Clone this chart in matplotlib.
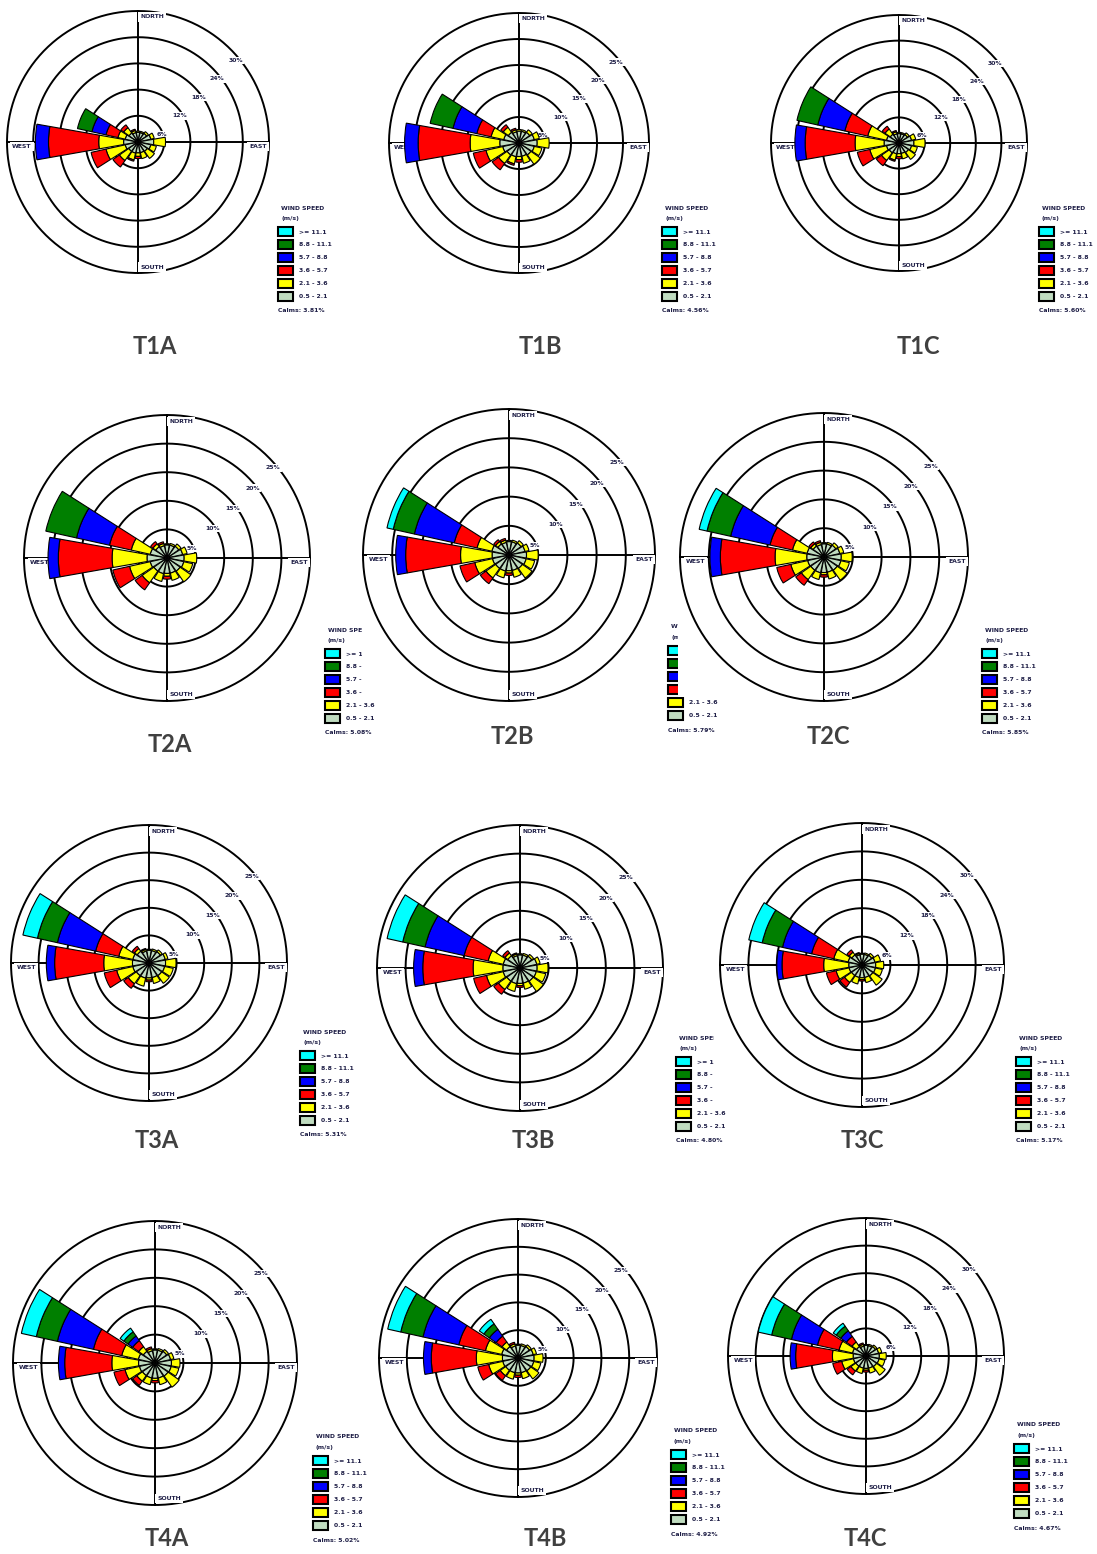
import numpy as np
import matplotlib
matplotlib.use("Agg")
import matplotlib.pyplot as plt
from matplotlib.patches import Patch, Rectangle

# ---- data -------------------------------------------------------------
directions = ["N", "NNE", "NE", "ENE", "E", "ESE", "SE", "SSE",
              "S", "SSW", "SW", "WSW", "W", "WNW", "NW", "NNW"]
# speed classes, inner -> outer (m/s)
speed_classes = ["0.5 - 2.1", "2.1 - 3.6", "3.6 - 5.7", "5.7 - 8.8", "8.8 - 11.1", ">= 11.1"]
speed_colors = ["#C0DCC0", "#FFFF00", "#FF0000", "#0000FF", "#007F00", "#00FFFF"]

panel_names = ["T1A", "T1B", "T1C", "T2A", "T2B", "T2C",
               "T3A", "T3B", "T3C", "T4A", "T4B", "T4C"]
ring_max = [30, 25, 30, 25, 25, 25, 25, 25, 30, 25, 25, 30]
calms = ["3.81%", "4.56%", "5.60%", "5.08%", "5.79%", "5.85%",
         "5.31%", "4.80%", "5.17%", "5.02%", "4.92%", "4.67%"]

# frequency (%) per direction (N .. NNW) and speed class (inner -> outer)
t1a = [[2.2, 0.3, 0.0, 0.0, 0.0, 0.0], [2.2, 0.3, 0.0, 0.0, 0.0, 0.0],
       [2.4, 0.5, 0.0, 0.0, 0.0, 0.0], [3.0, 0.8, 0.0, 0.0, 0.0, 0.0],
       [3.6, 2.7, 0.0, 0.0, 0.0, 0.0], [3.0, 1.3, 0.0, 0.0, 0.0, 0.0],
       [2.6, 2.0, 0.0, 0.0, 0.0, 0.0], [2.5, 1.4, 0.0, 0.0, 0.0, 0.0],
       [2.5, 0.8, 0.5, 0.0, 0.0, 0.0], [2.6, 1.6, 0.3, 0.0, 0.0, 0.0],
       [2.6, 2.6, 1.8, 0.0, 0.0, 0.0], [3.0, 4.5, 3.5, 0.0, 0.0, 0.0],
       [3.3, 5.7, 11.5, 3.0, 0.0, 0.0], [3.0, 1.7, 2.8, 3.3, 3.4, 0.0],
       [2.5, 1.5, 0.8, 0.0, 0.0, 0.0], [2.2, 0.5, 0.3, 0.0, 0.0, 0.0]]
t1b = [[2.3, 0.3, 0.0, 0.0, 0.0, 0.0], [2.3, 0.3, 0.0, 0.0, 0.0, 0.0],
       [2.5, 0.6, 0.0, 0.0, 0.0, 0.0], [3.0, 1.0, 0.0, 0.0, 0.0, 0.0],
       [3.5, 2.3, 0.0, 0.0, 0.0, 0.0], [3.0, 1.5, 0.0, 0.0, 0.0, 0.0],
       [2.8, 2.2, 0.0, 0.0, 0.0, 0.0], [2.6, 1.4, 0.0, 0.0, 0.0, 0.0],
       [2.6, 0.6, 0.5, 0.0, 0.0, 0.0], [2.7, 1.4, 0.3, 0.0, 0.0, 0.0],
       [2.8, 2.0, 1.5, 0.0, 0.0, 0.0], [3.2, 3.3, 2.5, 0.0, 0.0, 0.0],
       [3.7, 5.7, 10.0, 2.6, 0.0, 0.0], [3.0, 2.5, 2.8, 4.7, 4.5, 0.0],
       [2.5, 1.2, 0.6, 0.0, 0.0, 0.0], [2.2, 0.4, 0.3, 0.0, 0.0, 0.0]]
t1c = [[2.2, 0.3, 0.0, 0.0, 0.0, 0.0], [2.2, 0.3, 0.0, 0.0, 0.0, 0.0],
       [2.4, 0.5, 0.0, 0.0, 0.0, 0.0], [3.0, 1.0, 0.0, 0.0, 0.0, 0.0],
       [3.5, 2.6, 0.0, 0.0, 0.0, 0.0], [3.0, 1.4, 0.0, 0.0, 0.0, 0.0],
       [2.7, 2.0, 0.0, 0.0, 0.0, 0.0], [2.5, 1.3, 0.0, 0.0, 0.0, 0.0],
       [2.5, 0.7, 0.5, 0.0, 0.0, 0.0], [2.6, 1.5, 0.3, 0.0, 0.0, 0.0],
       [2.8, 2.2, 1.5, 0.0, 0.0, 0.0], [3.0, 4.0, 3.0, 0.0, 0.0, 0.0],
       [3.5, 6.8, 11.7, 2.4, 0.0, 0.0], [3.0, 4.5, 5.5, 6.5, 5.0, 0.0],
       [2.5, 1.5, 0.8, 0.0, 0.0, 0.0], [2.2, 0.5, 0.3, 0.0, 0.0, 0.0]]
t2a = [[2.3, 0.2, 0.0, 0.0, 0.0, 0.0], [2.3, 0.3, 0.0, 0.0, 0.0, 0.0],
       [2.5, 0.5, 0.0, 0.0, 0.0, 0.0], [2.8, 0.8, 0.0, 0.0, 0.0, 0.0],
       [3.0, 2.2, 0.0, 0.0, 0.0, 0.0], [3.0, 1.6, 0.0, 0.0, 0.0, 0.0],
       [2.8, 2.3, 0.0, 0.0, 0.0, 0.0], [2.7, 1.3, 0.0, 0.0, 0.0, 0.0],
       [2.7, 0.5, 0.5, 0.0, 0.0, 0.0], [2.8, 1.4, 0.0, 0.0, 0.0, 0.0],
       [2.8, 2.5, 1.5, 0.0, 0.0, 0.0], [3.0, 3.7, 3.0, 0.0, 0.0, 0.0],
       [3.5, 6.1, 9.4, 1.8, 0.0, 0.0], [3.0, 3.4, 3.9, 5.9, 5.5, 0.0],
       [2.4, 0.6, 0.5, 0.0, 0.0, 0.0], [2.2, 0.4, 0.3, 0.0, 0.0, 0.0]]
t2b = [[2.3, 0.2, 0.0, 0.0, 0.0, 0.0], [2.3, 0.3, 0.0, 0.0, 0.0, 0.0],
       [2.5, 0.5, 0.0, 0.0, 0.0, 0.0], [2.8, 0.7, 0.0, 0.0, 0.0, 0.0],
       [3.0, 2.0, 0.0, 0.0, 0.0, 0.0], [3.0, 1.5, 0.0, 0.0, 0.0, 0.0],
       [2.8, 2.0, 0.0, 0.0, 0.0, 0.0], [2.7, 1.2, 0.0, 0.0, 0.0, 0.0],
       [2.7, 0.4, 0.4, 0.0, 0.0, 0.0], [2.8, 1.2, 0.0, 0.0, 0.0, 0.0],
       [2.8, 2.0, 1.2, 0.0, 0.0, 0.0], [2.9, 3.1, 2.6, 0.0, 0.0, 0.0],
       [2.9, 5.4, 9.4, 1.7, 0.0, 0.0], [3.0, 2.6, 4.0, 7.0, 3.7, 1.1],
       [2.3, 0.5, 0.4, 0.0, 0.0, 0.0], [2.2, 0.4, 0.3, 0.0, 0.0, 0.0]]
t2c = [[2.3, 0.2, 0.0, 0.0, 0.0, 0.0], [2.3, 0.3, 0.0, 0.0, 0.0, 0.0],
       [2.5, 0.5, 0.0, 0.0, 0.0, 0.0], [2.8, 0.7, 0.0, 0.0, 0.0, 0.0],
       [3.0, 1.9, 0.0, 0.0, 0.0, 0.0], [3.0, 1.5, 0.0, 0.0, 0.0, 0.0],
       [2.8, 2.1, 0.0, 0.0, 0.0, 0.0], [2.7, 1.2, 0.0, 0.0, 0.0, 0.0],
       [2.7, 0.4, 0.4, 0.0, 0.0, 0.0], [2.8, 1.2, 0.0, 0.0, 0.0, 0.0],
       [2.8, 2.0, 1.2, 0.0, 0.0, 0.0], [2.9, 3.0, 2.5, 0.0, 0.0, 0.0],
       [3.0, 5.5, 9.5, 1.8, 0.0, 0.0], [3.0, 2.6, 4.0, 7.0, 4.2, 1.4],
       [2.3, 0.5, 0.4, 0.0, 0.0, 0.0], [2.2, 0.4, 0.3, 0.0, 0.0, 0.0]]
t3a = [[2.3, 0.2, 0.0, 0.0, 0.0, 0.0], [2.3, 0.3, 0.0, 0.0, 0.0, 0.0],
       [2.5, 0.4, 0.0, 0.0, 0.0, 0.0], [3.0, 0.5, 0.0, 0.0, 0.0, 0.0],
       [3.0, 1.9, 0.0, 0.0, 0.0, 0.0], [2.9, 1.6, 0.0, 0.0, 0.0, 0.0],
       [2.8, 1.7, 0.0, 0.0, 0.0, 0.0], [2.7, 1.1, 0.0, 0.0, 0.0, 0.0],
       [2.7, 0.4, 0.3, 0.0, 0.0, 0.0], [2.8, 1.5, 0.0, 0.0, 0.0, 0.0],
       [2.8, 1.8, 1.0, 0.0, 0.0, 0.0], [3.0, 3.0, 2.3, 0.0, 0.0, 0.0],
       [3.0, 5.2, 8.9, 1.5, 0.0, 0.0], [3.0, 2.6, 4.3, 7.1, 3.7, 2.7],
       [2.6, 0.6, 0.5, 0.0, 0.0, 0.0], [2.2, 0.3, 0.2, 0.0, 0.0, 0.0]]
t3b = [[2.3, 0.2, 0.0, 0.0, 0.0, 0.0], [2.3, 0.3, 0.0, 0.0, 0.0, 0.0],
       [2.5, 0.4, 0.0, 0.0, 0.0, 0.0], [3.0, 0.6, 0.0, 0.0, 0.0, 0.0],
       [3.0, 1.9, 0.0, 0.0, 0.0, 0.0], [2.9, 1.7, 0.0, 0.0, 0.0, 0.0],
       [2.8, 2.2, 0.0, 0.0, 0.0, 0.0], [2.7, 1.1, 0.0, 0.0, 0.0, 0.0],
       [2.7, 0.4, 0.3, 0.0, 0.0, 0.0], [2.8, 1.4, 0.0, 0.0, 0.0, 0.0],
       [2.8, 1.8, 1.0, 0.0, 0.0, 0.0], [3.0, 3.0, 2.3, 0.0, 0.0, 0.0],
       [3.0, 5.2, 8.8, 1.6, 0.0, 0.0], [3.0, 2.7, 4.3, 7.0, 4.0, 2.8],
       [2.6, 0.6, 0.5, 0.0, 0.0, 0.0], [2.2, 0.3, 0.2, 0.0, 0.0, 0.0]]
t3c = [[2.3, 0.2, 0.0, 0.0, 0.0, 0.0], [2.3, 0.3, 0.0, 0.0, 0.0, 0.0],
       [2.5, 0.5, 0.0, 0.0, 0.0, 0.0], [2.8, 1.2, 0.0, 0.0, 0.0, 0.0],
       [2.9, 1.7, 0.0, 0.0, 0.0, 0.0], [2.9, 1.5, 0.0, 0.0, 0.0, 0.0],
       [2.8, 2.4, 0.0, 0.0, 0.0, 0.0], [2.7, 1.1, 0.0, 0.0, 0.0, 0.0],
       [2.7, 0.4, 0.3, 0.0, 0.0, 0.0], [2.7, 1.4, 0.0, 0.0, 0.0, 0.0],
       [2.7, 1.8, 1.2, 0.0, 0.0, 0.0], [2.8, 2.8, 2.1, 0.0, 0.0, 0.0],
       [2.8, 5.3, 8.8, 1.1, 0.0, 0.0], [3.0, 3.1, 4.8, 6.3, 4.4, 2.9],
       [2.6, 0.7, 0.6, 0.0, 0.0, 0.0], [2.2, 0.3, 0.2, 0.0, 0.0, 0.0]]
t4a = [[2.3, 0.2, 0.0, 0.0, 0.0, 0.0], [2.3, 0.3, 0.0, 0.0, 0.0, 0.0],
       [2.5, 0.4, 0.0, 0.0, 0.0, 0.0], [2.8, 0.6, 0.0, 0.0, 0.0, 0.0],
       [2.9, 1.5, 0.0, 0.0, 0.0, 0.0], [2.9, 1.4, 0.0, 0.0, 0.0, 0.0],
       [2.8, 2.4, 0.0, 0.0, 0.0, 0.0], [2.7, 1.2, 0.0, 0.0, 0.0, 0.0],
       [2.7, 0.4, 0.4, 0.0, 0.0, 0.0], [2.7, 1.2, 0.0, 0.0, 0.0, 0.0],
       [2.7, 1.2, 0.9, 0.0, 0.0, 0.0], [2.8, 2.6, 2.0, 0.0, 0.0, 0.0],
       [2.9, 4.7, 8.3, 1.1, 0.0, 0.0], [3.0, 3.0, 5.1, 6.5, 3.8, 2.7],
       [2.5, 1.0, 1.3, 1.0, 0.9, 0.8], [2.2, 0.4, 0.3, 0.0, 0.0, 0.0]]
t4b = [[2.3, 0.2, 0.0, 0.0, 0.0, 0.0], [2.3, 0.3, 0.0, 0.0, 0.0, 0.0],
       [2.5, 0.4, 0.0, 0.0, 0.0, 0.0], [2.8, 0.6, 0.0, 0.0, 0.0, 0.0],
       [2.9, 1.6, 0.0, 0.0, 0.0, 0.0], [2.9, 1.3, 0.0, 0.0, 0.0, 0.0],
       [2.8, 1.8, 0.0, 0.0, 0.0, 0.0], [2.7, 1.1, 0.0, 0.0, 0.0, 0.0],
       [2.7, 0.4, 0.4, 0.0, 0.0, 0.0], [2.7, 1.2, 0.0, 0.0, 0.0, 0.0],
       [2.7, 1.2, 1.0, 0.0, 0.0, 0.0], [2.8, 2.6, 2.0, 0.0, 0.0, 0.0],
       [2.8, 4.7, 8.1, 1.4, 0.0, 0.0], [3.0, 3.0, 4.9, 6.6, 4.1, 2.4],
       [2.5, 1.0, 1.3, 1.5, 1.2, 1.0], [2.2, 0.4, 0.3, 0.0, 0.0, 0.0]]
t4c = [[2.3, 0.2, 0.0, 0.0, 0.0, 0.0], [2.3, 0.3, 0.0, 0.0, 0.0, 0.0],
       [2.5, 0.4, 0.0, 0.0, 0.0, 0.0], [2.8, 0.7, 0.0, 0.0, 0.0, 0.0],
       [2.9, 1.5, 0.0, 0.0, 0.0, 0.0], [2.9, 1.3, 0.0, 0.0, 0.0, 0.0],
       [2.8, 2.3, 0.0, 0.0, 0.0, 0.0], [2.7, 1.1, 0.0, 0.0, 0.0, 0.0],
       [2.7, 0.4, 0.4, 0.0, 0.0, 0.0], [2.7, 1.2, 0.0, 0.0, 0.0, 0.0],
       [2.7, 1.3, 1.0, 0.0, 0.0, 0.0], [2.8, 2.6, 2.0, 0.0, 0.0, 0.0],
       [2.8, 4.5, 8.0, 1.2, 0.0, 0.0], [3.0, 3.0, 4.8, 5.8, 4.4, 3.0],
       [2.5, 1.2, 1.5, 1.5, 1.2, 0.8], [2.2, 0.4, 0.3, 0.0, 0.0, 0.0]]
roses = [t1a, t1b, t1c, t2a, t2b, t2c, t3a, t3b, t3c, t4a, t4b, t4c]

# ---- layout (pixels) --------------------------------------------------
W, H = 1097, 1554
# centre x, centre y, radius, legend x, legend title y, label x, label y
layout = [
    (138, 142, 131, 278, 208, 155, 347),
    (519, 143, 130, 662, 208, 540, 347),
    (899, 143, 128, 1039, 208, 918, 347),
    (167, 558, 143, 325, 630, 170, 745),
    (509, 555, 146, 668, 627, 512, 736),
    (824, 557, 144, 982, 630, 828, 736),
    (149, 963, 138, 300, 1032, 157, 1140),
    (520, 968, 143, 676, 1038, 533, 1140),
    (862, 965, 142, 1016, 1038, 862, 1140),
    (155, 1363, 142, 313, 1437, 167, 1538),
    (518, 1358, 139, 671, 1431, 545, 1538),
    (866, 1356, 138, 1014, 1425, 865, 1538),
]
# white image tiles that hide the neighbour's legend (x0, y0, x1, y1)
tiles = {4: (362, 405, 660, 697), 5: (678, 405, 975, 697), 8: (714, 815, 1010, 1104)}

txt_color = "#1e1e46"
small = 4.4

fig = plt.figure(figsize=(W / 100, H / 100), dpi=100)
fig.patch.set_facecolor("white")

theta = np.radians(np.arange(16) * 22.5)
width = np.radians(20)
circle = np.linspace(0, 2 * np.pi, 400)

for i, name in enumerate(panel_names):
    cx, cy, R, lx, ly, tx, ty = layout[i]
    rmax = ring_max[i]
    z = 10 * i

    if i in tiles:
        x0, y0, x1, y1 = tiles[i]
        fig.add_artist(Rectangle((x0 / W, 1 - y1 / H), (x1 - x0) / W, (y1 - y0) / H,
                                 transform=fig.transFigure, facecolor="white",
                                 edgecolor="none", zorder=z))

    ax = fig.add_axes([(cx - R) / W, 1 - (cy + R) / H, 2 * R / W, 2 * R / H],
                      projection="polar")
    ax.set_zorder(z + 1)
    ax.set_theta_zero_location("N")
    ax.set_theta_direction(-1)
    ax.set_ylim(0, rmax)
    ax.set_axis_off()

    step = rmax / 5
    for k in range(1, 6):
        r = step * k
        ax.plot(circle, np.full_like(circle, r), color="black", lw=1.4,
                zorder=2, clip_on=False)
        ax.annotate(f"{int(round(r))}%", xy=(np.radians(45), r), xytext=(3.6, -7.9),
                    textcoords="offset points", ha="center", va="center",
                    fontsize=small, fontweight="bold", color=txt_color, zorder=3,
                    annotation_clip=False,
                    bbox=dict(boxstyle="square,pad=0.2", fc="white", ec="none"))
    for a in (0, 90, 180, 270):
        ax.plot([np.radians(a)] * 2, [0, rmax], color="black", lw=1.4,
                zorder=2, clip_on=False)

    txt_kw = dict(textcoords="offset points", fontsize=small, fontweight="bold",
                  color=txt_color, zorder=3, annotation_clip=False,
                  bbox=dict(boxstyle="square,pad=0.35", fc="white", ec="none"))
    ax.annotate("NORTH", xy=(0, rmax * 0.955), xytext=(1.5, 0), ha="left", va="center", **txt_kw)
    ax.annotate("SOUTH", xy=(np.pi, rmax * 0.955), xytext=(1.5, 0), ha="left", va="center", **txt_kw)
    ax.annotate("WEST", xy=(1.5 * np.pi, rmax * 0.96), xytext=(0, -1.5), ha="left", va="top", **txt_kw)
    ax.annotate("EAST", xy=(0.5 * np.pi, rmax * 0.985), xytext=(0, -1.5), ha="right", va="top", **txt_kw)

    data = np.array(roses[i])
    bottom = np.zeros(16)
    for k in range(6):
        vals = data[:, k]
        keep = vals > 0
        ax.bar(theta[keep], vals[keep], width=width, bottom=bottom[keep],
               color=speed_colors[k], edgecolor="black", linewidth=0.8, zorder=5)
        bottom += vals

    # legend: title lines, colour boxes, calms line
    for dy, line in ((0, "WIND SPEED"), (10.5, "(m/s)")):
        fig.text((lx + 3) / W, 1 - (ly + dy) / H, line, fontsize=small, fontweight="bold",
                 color=txt_color, ha="left", va="center", zorder=z + 2)
    handles = [Patch(facecolor=c, edgecolor="black", linewidth=1.5) for c in speed_colors[::-1]]
    leg = fig.legend(handles, speed_classes[::-1], loc="upper left",
                     bbox_to_anchor=(lx / W, 1 - (ly + 19) / H), frameon=False,
                     fontsize=small, borderpad=0, borderaxespad=0,
                     handlelength=2.4, handleheight=1.95, labelspacing=0.6,
                     handletextpad=1.1, labelcolor=txt_color,
                     prop={"weight": "bold", "size": small})
    leg.set_zorder(z + 2)
    fig.text(lx / W, 1 - (ly + 103) / H, f"Calms: {calms[i]}", fontsize=small,
             fontweight="bold", color=txt_color, ha="left", va="center", zorder=z + 2)

    fig.text(tx / W, 1 - ty / H, name, fontsize=17, fontweight="bold",
             family="Lato", color="#404040", ha="center", va="center", zorder=z + 2)

fig.savefig("out.png", dpi=100, facecolor="white")
